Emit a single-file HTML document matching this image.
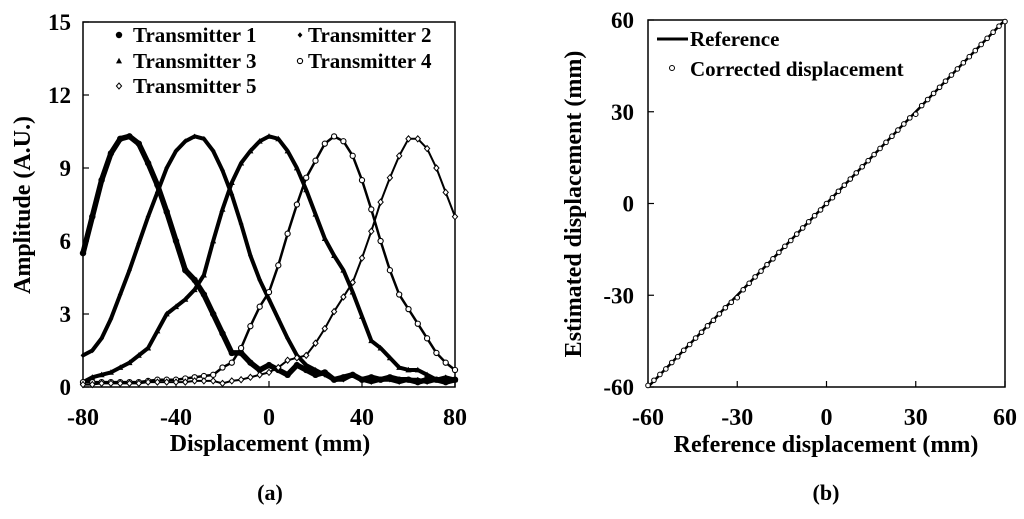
<!DOCTYPE html>
<html><head><meta charset="utf-8"><style>
body{margin:0;background:#fff}
svg text{font-family:"Liberation Serif",serif;font-weight:bold;fill:#000}
</style></head><body>
<svg id="svg" width="1024" height="514" xmlns="http://www.w3.org/2000/svg">
<g id="A"></g>
<g id="B"></g>
</svg>
<script>
const xsA = [-80,-76,-72,-68,-64,-60,-56,-52,-48,-44,-40,-36,-32,-28,-24,-20,-16,-12,-8,-4,0,4,8,12,16,20,24,28,32,36,40,44,48,52,56,60,64,68,72,76,80];
const t1 = [5.5,7.0,8.5,9.6,10.2,10.3,10.0,9.2,8.3,7.2,6.0,4.8,4.4,3.8,3.0,2.2,1.4,1.4,1.0,0.7,0.9,0.7,0.5,0.9,0.7,0.5,0.6,0.3,0.4,0.5,0.3,0.4,0.3,0.4,0.3,0.3,0.2,0.3,0.3,0.2,0.3];
const t2 = [1.3,1.5,2.0,2.8,3.8,4.8,5.9,7.0,8.0,9.0,9.7,10.1,10.3,10.2,9.7,8.9,7.9,6.7,5.4,4.4,3.6,2.8,2.0,1.3,0.9,0.7,0.5,0.3,0.3,0.5,0.3,0.2,0.3,0.3,0.2,0.3,0.3,0.2,0.3,0.4,0.3];
const t3 = [0.2,0.4,0.5,0.6,0.8,1.0,1.3,1.6,2.3,3.0,3.3,3.6,4.0,4.6,6.0,7.3,8.4,9.2,9.7,10.1,10.3,10.2,9.7,9.0,8.1,7.1,6.1,5.4,4.8,3.9,2.9,1.9,1.6,1.2,0.8,0.7,0.7,0.5,0.3,0.3,0.3];
const t4 = [0.2,0.2,0.2,0.2,0.2,0.2,0.2,0.25,0.3,0.3,0.3,0.35,0.4,0.45,0.5,0.8,1.0,1.6,2.5,3.3,3.9,5.0,6.3,7.5,8.6,9.3,10.0,10.3,10.1,9.5,8.5,7.3,6.0,4.8,3.8,3.2,2.6,2.0,1.4,1.0,0.7];
const t5 = [0.1,0.1,0.15,0.15,0.15,0.15,0.15,0.2,0.2,0.2,0.2,0.2,0.25,0.25,0.25,0.15,0.25,0.3,0.4,0.5,0.6,0.8,1.1,1.2,1.3,1.8,2.4,3.1,3.7,4.3,5.3,6.4,7.6,8.6,9.5,10.2,10.2,9.8,9.0,8.0,7.0];
const yTicksA = [0,3,6,9,12,15];
const xTicksA = [-80,-40,0,40,80];
const refX = [-60,60];
const refY = [-60,60];
const corrX = [-60,-58,-56,-54,-52,-50,-48,-46,-44,-42,-40,-38,-36,-34,-32,-30,-28,-26,-24,-22,-20,-18,-16,-14,-12,-10,-8,-6,-4,-2,0,2,4,6,8,10,12,14,16,18,20,22,24,26,28,30,32,34,36,38,40,42,44,46,48,50,52,54,56,58,60];
const corrY = [-59.5,-57.8,-55.9,-54.1,-52.0,-50.1,-48.0,-46.1,-44.0,-42.1,-40.0,-38.2,-36.1,-34.1,-32.3,-30.8,-28.2,-26.1,-24.0,-22.1,-20.0,-18.1,-16.0,-14.0,-12.1,-10.0,-8.0,-6.0,-4.0,-2.1,0.0,1.9,4.0,6.0,8.0,10.0,12.0,14.0,16.0,18.0,20.0,22.0,24.0,26.0,28.0,29.2,32.0,34.0,36.0,38.0,40.0,42.0,44.0,46.0,48.0,50.0,52.0,54.0,56.0,58.0,59.5];
const ticksB = [-60,-30,0,30,60];

const NS="http://www.w3.org/2000/svg";
function mk(p,tag,at,txt){const e=document.createElementNS(NS,tag);for(const k in at)e.setAttribute(k,at[k]);if(txt!==undefined)e.textContent=txt;p.appendChild(e);return e;}

const A=document.getElementById('A');
const ax={x0:83,x1:455,y0:387,y1:22};
const sxA=v=>ax.x0+(v+80)/160*(ax.x1-ax.x0);
const syA=v=>ax.y0-(v/15)*(ax.y0-ax.y1);
let r=mk(A,'rect',{x:ax.x0,y:ax.y1,width:ax.x1-ax.x0,height:ax.y0-ax.y1,fill:'none',stroke:'#000','stroke-width':1.5});


yTicksA.forEach(v=>{const y=syA(v);
 mk(A,'line',{x1:ax.x0,x2:ax.x0+6,y1:y,y2:y,stroke:'#000','stroke-width':1.2});
 const t=mk(A,'text',{x:ax.x0-12,y:y+8,'text-anchor':'end','font-size':23},v);
 
 });
xTicksA.forEach(v=>{const x=sxA(v);
 mk(A,'line',{x1:x,x2:x,y1:ax.y0,y2:ax.y0-6,stroke:'#000','stroke-width':1.2});
 const t=mk(A,'text',{x:x,y:425,'text-anchor':'middle','font-size':24},v);
 
 });
let tt=mk(A,'text',{x:270,y:451,'text-anchor':'middle','font-size':24},'Displacement (mm)');


tt=mk(A,'text',{x:0,y:0,'text-anchor':'middle','font-size':24,transform:'translate(30,205) rotate(-90)'},'Amplitude (A.U.)');


tt=mk(A,'text',{x:270,y:500,'text-anchor':'middle','font-size':22},'(a)');



function marker(g,type,x,y){
 if(type==1) return mk(g,'circle',{cx:x,cy:y,r:3.2,fill:'#000'});
 if(type==2) return mk(g,'path',{d:`M${x} ${y-2.8}L${x+2.4} ${y}L${x} ${y+2.8}L${x-2.4} ${y}Z`,fill:'#000'});
 if(type==3) return mk(g,'path',{d:`M${x} ${y-3.2}L${x+3} ${y+2.4}L${x-3} ${y+2.4}Z`,fill:'#000'});
 if(type==4) return mk(g,'circle',{cx:x,cy:y,r:2.6,fill:'#fff',stroke:'#000','stroke-width':1.1});
 return mk(g,'path',{d:`M${x} ${y-3}L${x+2.6} ${y}L${x} ${y+3}L${x-2.6} ${y}Z`,fill:'#fff',stroke:'#000','stroke-width':1});
}
const seriesA=[t1,t2,t3,t4,t5];
const widths=[5.5,4,4,2.5,2];
seriesA.forEach((s,i)=>{
 const g=mk(A,'g',{});
 
 
 const pts=s.map((v,j)=>sxA(xsA[j])+','+syA(v)).join(' ');
 mk(g,'polyline',{points:pts,fill:'none',stroke:'#000','stroke-width':widths[i],'stroke-linejoin':'round'});
 s.forEach((v,j)=>{const m=marker(g,i+1,sxA(xsA[j]),syA(v));
  
  });
});
const legA=[[119,35,133,'Transmitter 1'],[300,35,308,'Transmitter 2'],[119,61,133,'Transmitter 3'],[300,61,308,'Transmitter 4'],[119,86,133,'Transmitter 5']];
legA.forEach((l,i)=>{const g=mk(A,'g',{});
 
 
 marker(g,i+1,l[0],l[1]);
 mk(g,'text',{x:l[2],y:l[1]+7,'font-size':21},l[3]);});

const B=document.getElementById('B');
const bx={x0:648,x1:1005,y0:387,y1:20};
const sxB=v=>bx.x0+(v+60)/120*(bx.x1-bx.x0);
const syB=v=>bx.y0-(v+60)/120*(bx.y0-bx.y1);
r=mk(B,'rect',{x:bx.x0,y:bx.y1,width:bx.x1-bx.x0,height:bx.y0-bx.y1,fill:'none',stroke:'#000','stroke-width':1.5});


ticksB.forEach(v=>{const x=sxB(v),y=syB(v);
 mk(B,'line',{x1:x,x2:x,y1:bx.y0,y2:bx.y0-6,stroke:'#000','stroke-width':1.2});
 mk(B,'line',{x1:bx.x0,x2:bx.x0+6,y1:y,y2:y,stroke:'#000','stroke-width':1.2});
 let t=mk(B,'text',{x:x,y:425,'text-anchor':'middle','font-size':24},v);
 
 
 t=mk(B,'text',{x:bx.x0-14,y:y+8,'text-anchor':'end','font-size':23},v);
 
 });
tt=mk(B,'text',{x:826,y:452,'text-anchor':'middle','font-size':24},'Reference displacement (mm)');


tt=mk(B,'text',{x:0,y:0,'text-anchor':'middle','font-size':24,transform:'translate(581,204) rotate(-90)'},'Estimated displacement (mm)');


tt=mk(B,'text',{x:826,y:500,'text-anchor':'middle','font-size':22},'(b)');


let ln=mk(B,'line',{x1:sxB(refX[0]),y1:syB(refY[0]),x2:sxB(refX[1]),y2:syB(refY[1]),stroke:'#000','stroke-width':2.5});


const gc=mk(B,'g',{});


corrX.forEach((v,j)=>{const c=mk(gc,'circle',{cx:sxB(v),cy:syB(corrY[j]),r:2.3,fill:'#fff',stroke:'#000','stroke-width':1});
 
 });
let g=mk(B,'g',{});


mk(g,'line',{x1:657,x2:688,y1:39,y2:39,stroke:'#000','stroke-width':3});
mk(g,'text',{x:690,y:46,'font-size':21},'Reference');
g=mk(B,'g',{});


mk(g,'circle',{cx:672,cy:68,r:2.5,fill:'#fff',stroke:'#000','stroke-width':1});
mk(g,'text',{x:690,y:76,'font-size':21},'Corrected displacement');
</script>
</body></html>
